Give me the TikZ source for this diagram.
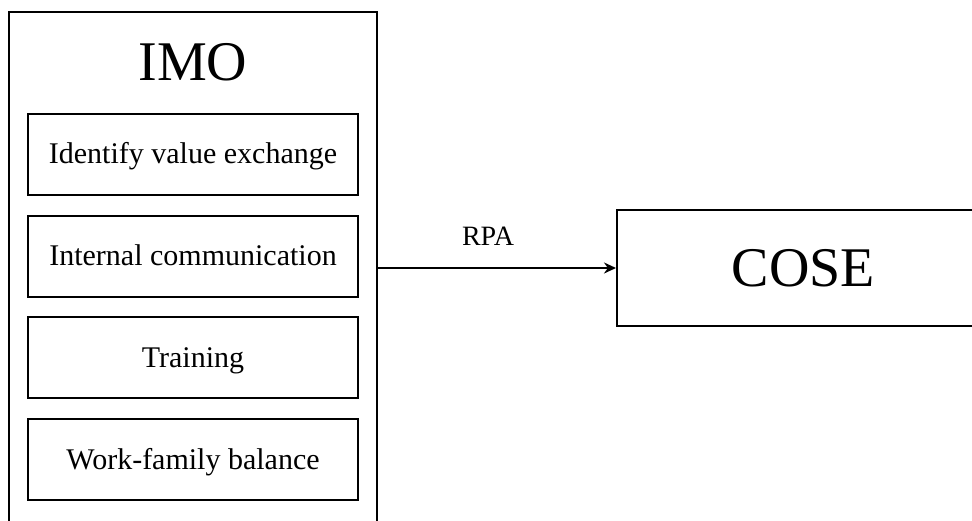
\documentclass[tikz,border=0pt]{standalone}
\usepackage{fontspec}
\setmainfont{Liberation Serif}
\usetikzlibrary{arrows.meta}
\tikzset{
  frame/.style={draw, line width=2pt, rectangle, inner sep=0pt},
  itembox/.style={frame, minimum width=330pt, minimum height=81pt,
    font=\fontsize{30}{36}\selectfont, text height=19.8pt, text depth=0pt},
  bigtext/.style={font=\fontsize{56}{64}\selectfont},
  flow/.style={line width=2pt, -{Stealth[length=12pt,width=11pt]}}
}
\begin{document}
\begin{tikzpicture}[x=1pt,y=-1pt]
  \clip (0,0) rectangle (972,520);
  % outer container, running past the lower edge
  \node[frame, minimum width=368pt, minimum height=523pt] (imo) at (193,273.5) {};
  \node[bigtext, anchor=base] (imotitle) at (193,80) {IMO};
  % components listed inside the container
  \node[itembox] (value) at (193,154) {Identify value exchange};
  \node[itembox] (comm) at (193,256) {Internal communication};
  \node[itembox] (train) at (193,357.5) {Training};
  \node[itembox] (balance) at (193,459.5) {Work-family balance};
  % outcome box, running past the right edge
  \node[frame, minimum width=373pt, minimum height=116pt, bigtext,
        text height=37pt, text depth=0pt] (cose) at (803.5,268) {COSE};
  % connector
  \draw[flow] (imo.east |- cose.west) -- (cose.west);
  \node[anchor=base, font=\fontsize{28}{34}\selectfont] (rpa) at (488,245) {RPA};
\end{tikzpicture}
\end{document}
